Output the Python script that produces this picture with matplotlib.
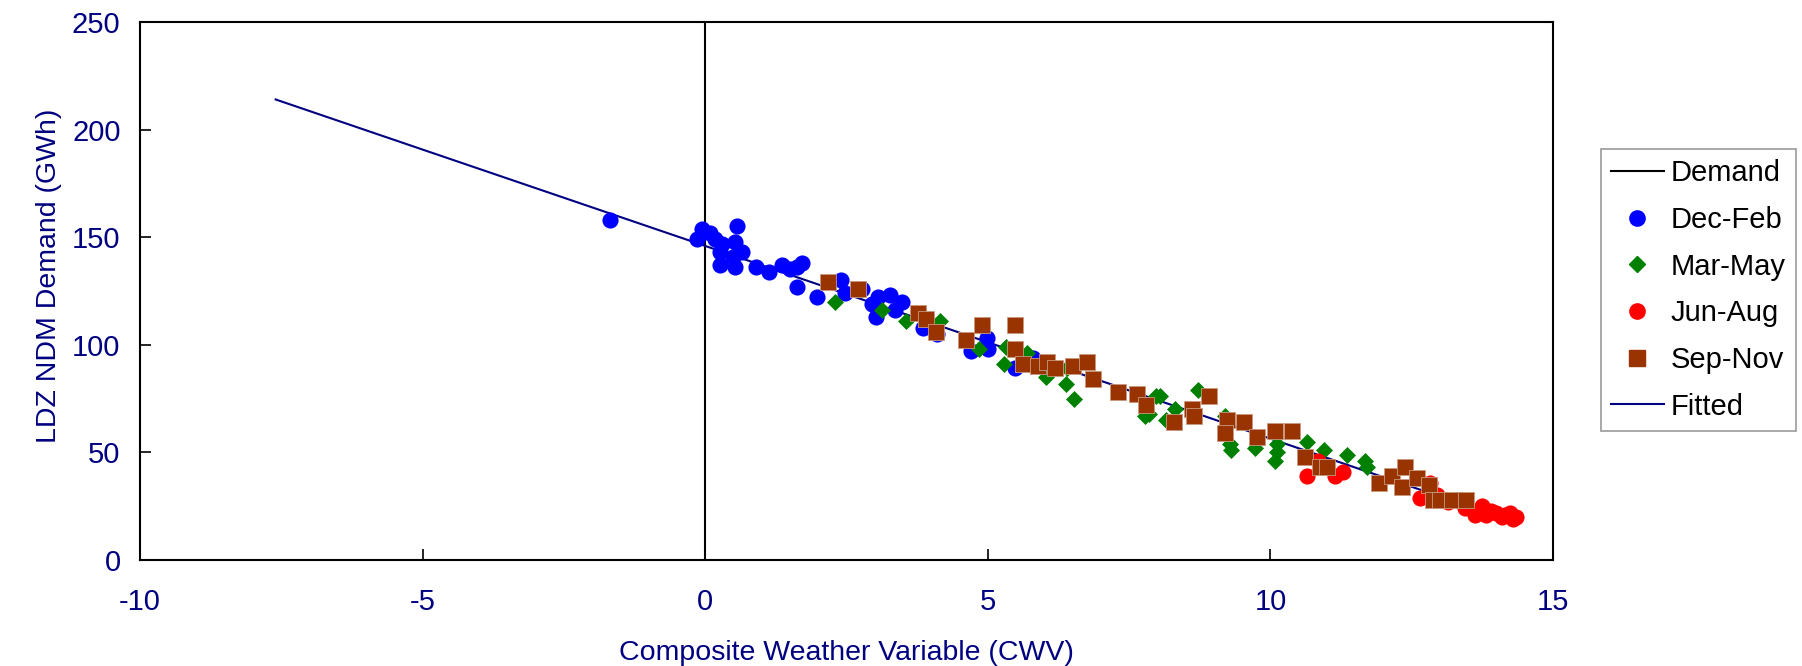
import matplotlib
matplotlib.use("Agg")
import matplotlib.pyplot as plt
from matplotlib.lines import Line2D

plt.rcParams['font.family'] = ['Liberation Sans', 'DejaVu Sans']
plt.rcParams['axes.unicode_minus'] = False

# Dec-Feb
dec_feb_x = [-1.68, -0.15, -0.06, 0.09, 0.17, 0.26, 0.29, 0.27, 0.56, 0.53, 0.49, 0.65,
             0.53, 0.90, 1.13, 1.35, 1.50, 1.62, 1.72, 1.63, 1.97, 2.41, 2.47, 2.77,
             2.95, 3.06, 3.27, 3.48, 3.36, 3.03, 3.86, 4.10, 4.71, 4.98, 5.01, 5.48, 5.80]
dec_feb_y = [158, 149, 154, 152, 149, 143, 147, 137, 155, 148, 141, 143,
             136, 136, 134, 137, 135, 136, 138, 127, 122, 130, 124, 126,
             119, 122, 123, 120, 116, 113, 108, 105, 97, 103, 98, 89, 94]

# Mar-May
mar_may_x = [2.30, 3.13, 3.55, 4.15, 4.85, 5.32, 5.29, 5.69, 6.03, 6.38, 6.53, 6.40,
             7.78, 7.85, 7.98, 8.04, 8.16, 8.31, 8.72, 9.20, 9.28, 9.31, 9.73, 10.11,
             10.11, 10.08, 10.65, 10.94, 11.35, 11.67, 11.71]
mar_may_y = [120, 116, 111, 111, 98, 99, 91, 96, 85, 82, 75, 89,
             67, 68, 76, 76, 65, 70, 79, 67, 54, 51, 52, 54,
             50, 46, 55, 51, 49, 46, 43]

# Jun-Aug
jun_aug_x = [10.64, 10.85, 11.14, 11.29, 12.65, 12.82, 12.95, 13.15, 13.30, 13.45,
             13.62, 13.74, 13.82, 13.90, 14.00, 14.09, 14.15, 14.24, 14.30, 14.35]
jun_aug_y = [39, 46, 39, 41, 29, 36, 30, 27, 28, 24,
             21, 25, 21, 23, 22, 20, 21, 22, 19, 20]

# Sep-Nov
sep_nov_x = [2.18, 2.71, 3.76, 3.90, 4.08, 4.62, 4.90, 5.48, 5.48, 5.62, 5.89, 6.04,
             6.19, 6.51, 6.75, 6.87, 7.31, 7.64, 7.80, 8.30, 8.62, 8.65, 8.92, 9.23,
             9.20, 9.53, 9.77, 10.08, 10.39, 10.62, 10.88, 11.00, 11.93, 12.15, 12.38,
             12.32, 12.59, 12.80, 12.87, 13.00, 13.21, 13.46]
sep_nov_y = [129, 126, 115, 112, 106, 102, 109, 109, 98, 91, 90, 92,
             89, 90, 92, 84, 78, 77, 72, 64, 70, 67, 76, 65,
             59, 64, 57, 60, 60, 48, 43, 43, 36, 39, 43,
             34, 38, 35, 28, 28, 28, 28]

# fitted line
fit_x = [-7.6, 14.4]
fit_y = [214, 17]

navy = '#000080'

fig = plt.figure(figsize=(18.02, 6.66), dpi=100)
ax = fig.add_axes([140/1802, 1 - 560/666, 1413/1802, 538/666])

ax.axvline(0, color='black', lw=1.5, zorder=1)
ax.plot(fit_x, fit_y, color=navy, lw=1.5, zorder=2)

ax.scatter(dec_feb_x, dec_feb_y, s=135, marker='o', color='#0000ff', linewidths=0, zorder=3)
ax.scatter(mar_may_x, mar_may_y, s=75, marker='D', color='#008000', linewidths=0, zorder=4)
ax.scatter(jun_aug_x, jun_aug_y, s=135, marker='o', color='#ff0000', linewidths=0, zorder=5)
ax.scatter(sep_nov_x, sep_nov_y, s=135, marker='s', color='#993300',
           edgecolors='#c89a80', linewidths=0.6, zorder=6)

ax.set_xlim(-10, 15)
ax.set_ylim(0, 250)
ax.set_xticks([-10, -5, 0, 5, 10, 15])
ax.set_yticks([0, 50, 100, 150, 200, 250])
ax.tick_params(axis='both', direction='in', length=8, width=1.2, labelsize=21,
               labelcolor=navy)
ax.tick_params(axis='x', pad=20)
ax.tick_params(axis='y', pad=14)
for sp in ax.spines.values():
    sp.set_linewidth(1.5)

ax.set_xlabel('Composite Weather Variable (CWV)', fontsize=20.5, color=navy)
ax.set_ylabel('LDZ NDM Demand (GWh)', fontsize=20.5, color=navy)
ax.xaxis.set_label_coords(0.5, -0.1495)
ax.yaxis.set_label_coords(-0.055, 0.528)

handles = [
    Line2D([], [], color='black', lw=1.5),
    Line2D([], [], marker='o', ls='none', color='#0000ff', markersize=11),
    Line2D([], [], marker='D', ls='none', color='#008000', markersize=8),
    Line2D([], [], marker='o', ls='none', color='#ff0000', markersize=11),
    Line2D([], [], marker='s', ls='none', color='#993300', markersize=11),
    Line2D([], [], color=navy, lw=1.5),
]
labels = ['Demand', 'Dec-Feb', 'Mar-May', 'Jun-Aug', 'Sep-Nov', 'Fitted']
leg = fig.legend(handles, labels, loc='upper left',
                 bbox_to_anchor=(1601/1802, 1 - 149/666), fontsize=21,
                 frameon=True, fancybox=False, edgecolor='#808080',
                 handlelength=1.8, handletextpad=0.25, labelspacing=0.64,
                 borderpad=0.35, borderaxespad=0)
leg.get_frame().set_linewidth(1.2)

fig.savefig('out.png', dpi=100)
